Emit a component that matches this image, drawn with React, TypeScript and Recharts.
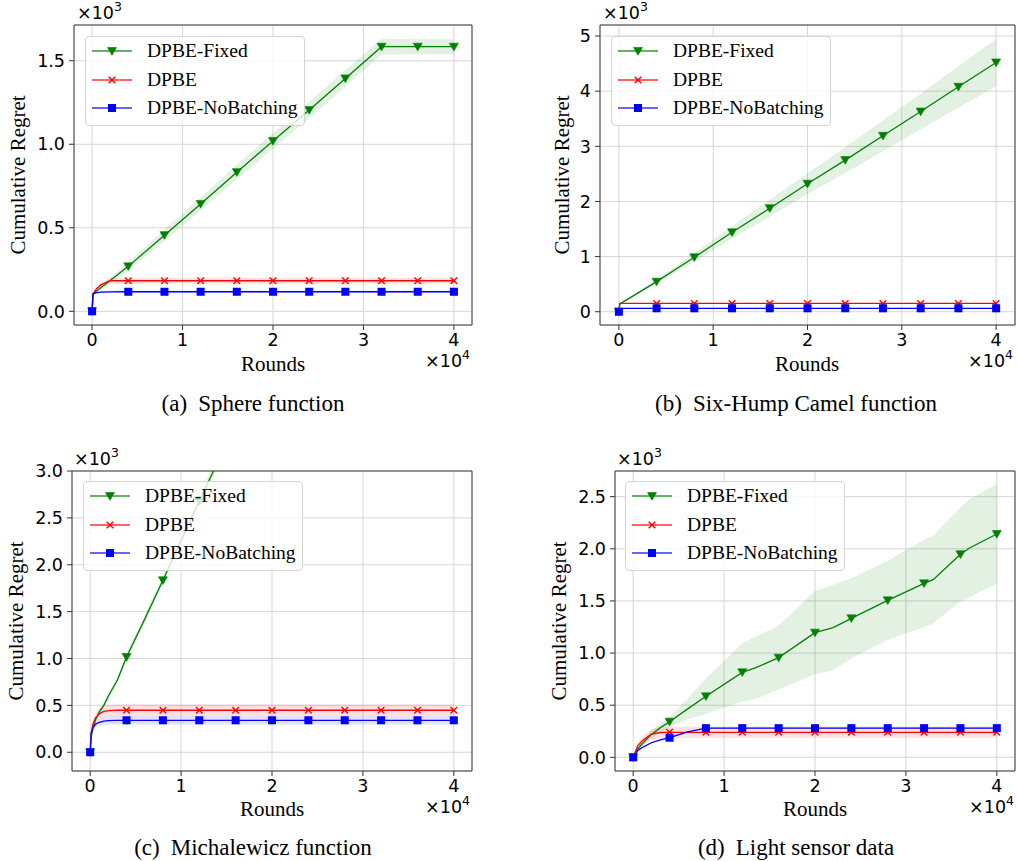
import React from 'react';
import { ComposedChart, Line, Area, XAxis, YAxis, CartesianGrid, ReferenceArea, Legend } from 'recharts';

const SERIF = '"Liberation Serif", "Times New Roman", serif';
const SANS = '"DejaVu Sans", "Noto Sans", sans-serif';

const seriesNames = ['DPBE-Fixed', 'DPBE', 'DPBE-NoBatching'];
const seriesColors = ['#008000', '#ff0000', '#0000ff'];
const xTicks = [0, 10000, 20000, 30000, 40000];

// (a) Sphere function
const aRounds = [0, 100, 500, 1000, 2000, 4000, 8000, 12000, 16000, 20000, 24000, 28000, 32000, 36000, 40000];
const aFixed = [0, 104, 121, 142, 184, 269, 456, 643, 833, 1020, 1205, 1394, 1584, 1584, 1584];
const aFixedStd = [0, 4, 8, 12, 18, 26, 34, 40, 44, 47, 49, 50, 48, 45, 45];
const aDpbe = [0, 104, 135, 160, 183, 183, 183, 183, 183, 183, 183, 183, 183, 183, 183];
const aDpbeStd = [0, 4, 10, 14, 18, 18, 18, 18, 18, 18, 18, 18, 18, 18, 18];
const aNob = [0, 104, 112, 115, 116, 117, 117, 117, 117, 117, 117, 117, 117, 117, 117];
const aNobStd = [0, 4, 6, 7, 8, 8, 8, 8, 8, 8, 8, 8, 8, 8, 8];
const aYTicks = [0, 500, 1000, 1500];

// (b) Six-Hump Camel function
const bRounds = [0, 100, 500, 1000, 2000, 4000, 8000, 12000, 16000, 20000, 24000, 28000, 32000, 36000, 40000];
const bFixed = [0, 140, 182, 233, 337, 545, 987, 1440, 1877, 2320, 2750, 3190, 3630, 4080, 4520];
const bFixedStd = [0, 3, 6, 10, 18, 38, 75, 115, 155, 190, 235, 280, 325, 375, 430];
const bDpbe = [0, 150, 150, 150, 150, 150, 150, 150, 150, 150, 150, 150, 150, 150, 150];
const bDpbeStd = [0, 8, 8, 8, 8, 8, 8, 8, 8, 8, 8, 8, 8, 8, 8];
const bNob = [0, 55, 60, 62, 62, 62, 62, 62, 62, 62, 62, 62, 62, 62, 62];
const bNobStd = [0, 5, 5, 5, 5, 5, 5, 5, 5, 5, 5, 5, 5, 5, 5];
const bYTicks = [0, 1000, 2000, 3000, 4000, 5000];

// (c) Michalewicz function
const cRounds = [0, 100, 300, 600, 1000, 1500, 2000, 3000, 4000, 6000, 8000, 12000, 16000, 20000, 24000, 28000, 32000, 36000, 40000];
const cFixed = [0, 150, 260, 350, 430, 500, 600, 770, 1016, 1420, 1834, 2680, 3500, 4340, 5180, 6000, 6850, 7700, 8500];
const cFixedStd = [0, 10, 20, 25, 30, 30, 30, 35, 40, 45, 50, 60, 70, 80, 90, 100, 110, 120, 130];
const cDpbe = [0, 200, 300, 370, 410, 435, 445, 448, 448, 448, 448, 448, 448, 448, 448, 448, 448, 448, 448];
const cDpbeStd = [0, 20, 35, 45, 55, 60, 63, 65, 65, 65, 65, 65, 65, 65, 65, 65, 65, 65, 65];
const cNob = [0, 200, 260, 300, 320, 333, 338, 341, 341, 341, 341, 341, 341, 341, 341, 341, 341, 341, 341];
const cNobStd = [0, 20, 30, 38, 42, 44, 45, 45, 45, 45, 45, 45, 45, 45, 45, 45, 45, 45, 45];
const cYTicks = [0, 500, 1000, 1500, 2000, 2500, 3000];

// (d) Light sensor data
const dRounds = [0, 500, 1000, 2000, 3000, 4000, 6000, 8000, 12000, 13500, 16000, 20000, 22000, 24000, 28000, 32000, 33000, 36000, 37000, 40000];
const dFixed = [0, 80, 130, 220, 285, 342, 465, 585, 815, 860, 956, 1196, 1244, 1333, 1506, 1669, 1704, 1947, 2008, 2142];
const dFixedStd = [0, 20, 30, 40, 45, 50, 100, 170, 280, 300, 305, 400, 410, 385, 380, 420, 420, 450, 470, 480];
const dDpbe = [0, 110, 160, 222, 238, 240, 240, 240, 240, 240, 240, 240, 240, 240, 240, 240, 240, 240, 240, 240];
const dDpbeStd = [0, 30, 40, 50, 55, 55, 55, 55, 55, 55, 55, 55, 55, 55, 55, 55, 55, 55, 55, 55];
const dNob = [0, 65, 95, 140, 168, 188, 245, 280, 280, 280, 280, 280, 280, 280, 280, 280, 280, 280, 280, 280];
const dNobStd = [0, 8, 10, 10, 10, 10, 10, 8, 8, 8, 8, 8, 8, 8, 8, 8, 8, 8, 8, 8];
const dYTicks = [0, 500, 1000, 1500, 2000, 2500];

function buildRows(rounds: number[], f: number[], fs: number[], d: number[], ds: number[], n: number[], ns: number[]) {
  return rounds.map((x, i) => ({
    x,
    fixed: f[i],
    fixedBand: [f[i] - fs[i], f[i] + fs[i]],
    dpbe: d[i],
    dpbeBand: [d[i] - ds[i], d[i] + ds[i]],
    nob: n[i],
    nobBand: [n[i] - ns[i], n[i] + ns[i]],
  }));
}

const MarkerShape = ({ kind, cx, cy }: { kind: number; cx: number; cy: number }) => {
  if (kind === 0) {
    return <path d={`M${cx - 4.5},${cy - 3.5} L${cx + 4.5},${cy - 3.5} L${cx},${cy + 4.2} Z`} fill="#008000" stroke="#008000" strokeWidth={0.6} />;
  }
  if (kind === 1) {
    return (
      <g stroke="#ff0000" strokeWidth={1.4}>
        <line x1={cx - 3.3} y1={cy - 3.3} x2={cx + 3.3} y2={cy + 3.3} />
        <line x1={cx - 3.3} y1={cy + 3.3} x2={cx + 3.3} y2={cy - 3.3} />
      </g>
    );
  }
  return <rect x={cx - 4} y={cy - 4} width={8} height={8} fill="#0000ff" />;
};

const makeDot = (kind: number) => (p: any) => {
  const { cx, cy, payload, index } = p;
  if (payload == null || payload.x % 4000 !== 0 || cx == null || cy == null) return <g key={`d${kind}-${index}`} />;
  return (
    <g key={`d${kind}-${index}`}>
      <MarkerShape kind={kind} cx={cx} cy={cy} />
    </g>
  );
};

const LegendBox = () => (
  <div
    style={{
      width: 220,
      height: 90,
      border: '1px solid #d4d4d4',
      borderRadius: 4,
      background: 'rgba(255,255,255,0.8)',
      boxSizing: 'border-box',
      position: 'relative',
    }}
  >
    {seriesNames.map((name, i) => (
      <div key={name} style={{ position: 'absolute', left: 6, top: 3 + i * 28.5, height: 22, display: 'flex', alignItems: 'center' }}>
        <svg width={40} height={22} style={{ display: 'block' }}>
          <line x1={0} y1={11} x2={40} y2={11} stroke={seriesColors[i]} strokeWidth={1.3} strokeOpacity={0.8} />
          <MarkerShape kind={i} cx={20} cy={11} />
        </svg>
        <span style={{ marginLeft: 15, fontFamily: SERIF, fontSize: 19.5, color: '#000', lineHeight: '22px', whiteSpace: 'nowrap' }}>{name}</span>
      </div>
    ))}
  </div>
);

type PanelProps = {
  left: number;
  top: number;
  w: number;
  h: number;
  plot: { l: number; r: number; t: number; b: number };
  rows: any[];
  yDomain: [number, number];
  yTicks: number[];
  yFmt: (v: number) => string;
  legendPos: { left: number; top: number };
  x3: { left: number; cy: number };
  x4: { right: number; cy: number };
  rounds: { cx: number; cy: number };
  ylab: { cx: number; cy: number };
  caption: { cx: number; cy: number; tag: string; text: string };
};

const tickStyle = { fontSize: 17.5, fontFamily: SANS, fill: '#000' };

const Panel = (p: PanelProps) => {
  const xAxisH = 40;
  const margin = { top: p.plot.t, right: p.w - p.plot.r, bottom: p.h - p.plot.b - xAxisH, left: 0 };
  return (
    <div style={{ position: 'absolute', left: p.left, top: p.top, width: p.w, height: p.h }}>
      <ComposedChart width={p.w} height={p.h} data={p.rows} margin={margin}>
        <CartesianGrid stroke="#d6d6d6" strokeWidth={1} />
        <XAxis
          dataKey="x"
          type="number"
          domain={[-2000, 42000]}
          ticks={xTicks}
          tickFormatter={(v: number) => String(v / 10000)}
          allowDataOverflow
          height={xAxisH}
          tickSize={5}
          tickMargin={4}
          tick={tickStyle}
          axisLine={false}
          tickLine={{ stroke: '#333' }}
          interval={0}
        />
        <YAxis
          type="number"
          domain={p.yDomain}
          ticks={p.yTicks}
          tickFormatter={p.yFmt}
          allowDataOverflow
          width={p.plot.l}
          tickSize={5}
          tickMargin={4}
          tick={tickStyle}
          axisLine={false}
          tickLine={{ stroke: '#333' }}
          interval={0}
        />
        <Area dataKey="fixedBand" type="linear" fill="#008000" fillOpacity={0.11} stroke="none" isAnimationActive={false} activeDot={false} />
        <Area dataKey="dpbeBand" type="linear" fill="#ff0000" fillOpacity={0.11} stroke="none" isAnimationActive={false} activeDot={false} />
        <Area dataKey="nobBand" type="linear" fill="#0000ff" fillOpacity={0.11} stroke="none" isAnimationActive={false} activeDot={false} />
        <Line dataKey="fixed" type="linear" stroke="#008000" strokeWidth={1.3} dot={makeDot(0)} activeDot={false} isAnimationActive={false} />
        <Line dataKey="dpbe" type="linear" stroke="#ff0000" strokeWidth={1.3} dot={makeDot(1)} activeDot={false} isAnimationActive={false} />
        <Line dataKey="nob" type="linear" stroke="#0000ff" strokeWidth={1.3} dot={makeDot(2)} activeDot={false} isAnimationActive={false} />
        <ReferenceArea x1={-2000} x2={42000} y1={p.yDomain[0]} y2={p.yDomain[1]} fill="none" stroke="#3a3a3a" strokeWidth={1} ifOverflow="visible" />
        <Legend
          layout="vertical"
          align="center"
          verticalAlign="middle"
          content={() => <LegendBox />}
          wrapperStyle={{ left: p.legendPos.left, top: p.legendPos.top, width: 220, height: 90 }}
        />
      </ComposedChart>
      <div style={{ position: 'absolute', left: p.x3.left, top: p.x3.cy, transform: 'translateY(-50%)', fontFamily: SANS, fontSize: 17.5, lineHeight: 1, whiteSpace: 'nowrap' }}>
        ×10<span style={{ fontSize: 12.5, position: 'relative', top: -8 }}>3</span>
      </div>
      <div style={{ position: 'absolute', right: p.w - p.x4.right, top: p.x4.cy, transform: 'translateY(-50%)', fontFamily: SANS, fontSize: 17.5, lineHeight: 1, whiteSpace: 'nowrap' }}>
        ×10<span style={{ fontSize: 12.5, position: 'relative', top: -8 }}>4</span>
      </div>
      <div style={{ position: 'absolute', left: p.rounds.cx, top: p.rounds.cy, transform: 'translate(-50%,-50%)', fontFamily: SERIF, fontSize: 21, lineHeight: 1, whiteSpace: 'nowrap' }}>
        Rounds
      </div>
      <div style={{ position: 'absolute', left: p.ylab.cx, top: p.ylab.cy, transform: 'translate(-50%,-50%) rotate(-90deg)', fontFamily: SERIF, fontSize: 21, lineHeight: 1, whiteSpace: 'nowrap' }}>
        Cumulative Regret
      </div>
      <div style={{ position: 'absolute', left: p.caption.cx, top: p.caption.cy, transform: 'translate(-50%,-50%)', fontFamily: SERIF, fontSize: 23, lineHeight: 1, whiteSpace: 'nowrap' }}>
        <span>{p.caption.tag}</span>
        <span style={{ marginLeft: 11 }}>{p.caption.text}</span>
      </div>
    </div>
  );
};

const fmt1 = (v: number) => (v / 1000).toFixed(1);
const fmt0 = (v: number) => String(v / 1000);

export default function App() {
  return (
    <div style={{ position: 'absolute', left: 0, top: 0, width: 1018, height: 861, background: '#fff', overflow: 'hidden' }}>
      <Panel
        left={0}
        top={0}
        w={509}
        h={430}
        plot={{ l: 74, r: 472, t: 25, b: 325 }}
        rows={buildRows(aRounds, aFixed, aFixedStd, aDpbe, aDpbeStd, aNob, aNobStd)}
        yDomain={[-82, 1714]}
        yTicks={aYTicks}
        yFmt={fmt1}
        legendPos={{ left: 85, top: 36 }}
        x3={{ left: 77, cy: 14 }}
        x4={{ right: 470, cy: 362 }}
        rounds={{ cx: 273, cy: 364 }}
        ylab={{ cx: 18, cy: 175 }}
        caption={{ cx: 253, cy: 403, tag: '(a)', text: 'Sphere function' }}
      />
      <Panel
        left={509}
        top={0}
        w={509}
        h={430}
        plot={{ l: 91, r: 506, t: 25, b: 325 }}
        rows={buildRows(bRounds, bFixed, bFixedStd, bDpbe, bDpbeStd, bNob, bNobStd)}
        yDomain={[-241, 5200]}
        yTicks={bYTicks}
        yFmt={fmt0}
        legendPos={{ left: 102, top: 36 }}
        x3={{ left: 94, cy: 14 }}
        x4={{ right: 504, cy: 362 }}
        rounds={{ cx: 298, cy: 364 }}
        ylab={{ cx: 53, cy: 175 }}
        caption={{ cx: 287, cy: 403, tag: '(b)', text: 'Six-Hump Camel function' }}
      />
      <Panel
        left={0}
        top={430}
        w={509}
        h={431}
        plot={{ l: 72, r: 472, t: 41, b: 341 }}
        rows={buildRows(cRounds, cFixed, cFixedStd, cDpbe, cDpbeStd, cNob, cNobStd)}
        yDomain={[-200, 3000]}
        yTicks={cYTicks}
        yFmt={fmt1}
        legendPos={{ left: 83, top: 51 }}
        x3={{ left: 74, cy: 30 }}
        x4={{ right: 470, cy: 378 }}
        rounds={{ cx: 272, cy: 379 }}
        ylab={{ cx: 16, cy: 191 }}
        caption={{ cx: 253, cy: 417, tag: '(c)', text: 'Michalewicz function' }}
      />
      <Panel
        left={509}
        top={430}
        w={509}
        h={431}
        plot={{ l: 106, r: 506, t: 41, b: 341 }}
        rows={buildRows(dRounds, dFixed, dFixedStd, dDpbe, dDpbeStd, dNob, dNobStd)}
        yDomain={[-131, 2746]}
        yTicks={dYTicks}
        yFmt={fmt1}
        legendPos={{ left: 116, top: 51 }}
        x3={{ left: 108, cy: 30 }}
        x4={{ right: 505, cy: 378 }}
        rounds={{ cx: 306, cy: 379 }}
        ylab={{ cx: 50, cy: 191 }}
        caption={{ cx: 287, cy: 417, tag: '(d)', text: 'Light sensor data' }}
      />
    </div>
  );
}
